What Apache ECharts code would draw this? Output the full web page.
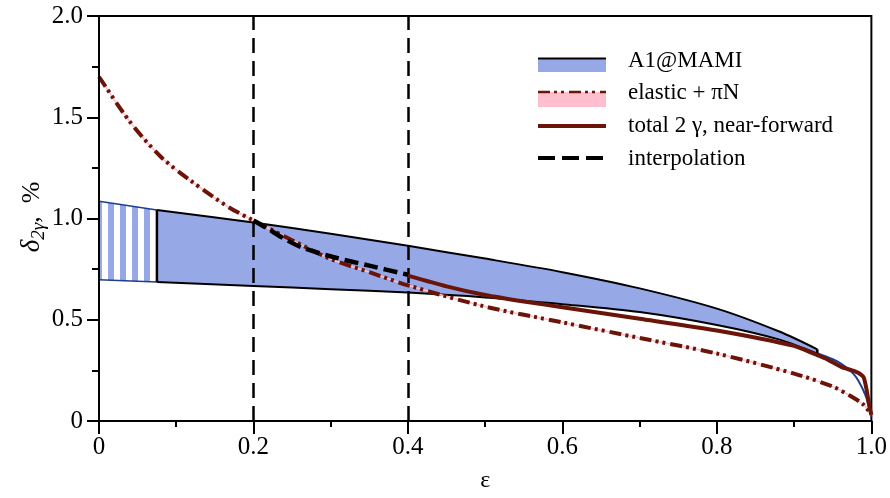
<!DOCTYPE html>
<html>
<head>
<meta charset="utf-8">
<script src="https://cdn.jsdelivr.net/npm/echarts@6/dist/echarts.min.js"></script>
<style>
html, body { margin: 0; padding: 0; background: #fff; }
#chart { width: 890px; height: 498px; }
</style>
</head>
<body>
<div id="chart"></div>
<script>
// A1@MAMI band (measured part)
var bandEps   = [0.075, 0.2, 0.3, 0.4, 0.5, 0.6, 0.7, 0.8, 0.88, 0.93];
var bandUpper = [1.042, 0.98, 0.925, 0.865, 0.802, 0.735, 0.655, 0.555, 0.443, 0.354];
var bandLower = [0.686, 0.667, 0.651, 0.634, 0.61, 0.577, 0.538, 0.474, 0.403, 0.333];
// extrapolated part, hatched
var hatchEps   = [0, 0.075];
var hatchUpper = [1.085, 1.042];
var hatchLower = [0.697, 0.686];
// extrapolated line to eps = 1
var extEps = [0.93, 0.95, 0.962, 0.975, 0.983, 0.992, 0.997, 1.0];
var extVal = [0.335, 0.305, 0.28, 0.24, 0.2, 0.13, 0.07, 0.02];
// elastic + piN
var elEps = [0, 0.04, 0.08, 0.12, 0.167, 0.2, 0.25, 0.3, 0.35, 0.4, 0.5, 0.6, 0.7, 0.8, 0.9, 0.95, 0.97, 0.99, 1.0];
var elVal = [1.70, 1.478, 1.305, 1.183, 1.058, 0.99, 0.893, 0.80, 0.735, 0.67, 0.565, 0.487, 0.41, 0.333, 0.234, 0.17, 0.13, 0.08, 0.03];
// total 2 gamma, near-forward
var totEps = [0.4, 0.45, 0.5, 0.55, 0.6, 0.7, 0.8, 0.9, 0.927, 0.94, 0.961, 0.975, 0.983, 0.99, 0.994, 0.997, 1.0];
var totVal = [0.718, 0.665, 0.622, 0.59, 0.562, 0.505, 0.447, 0.371, 0.33, 0.31, 0.267, 0.25, 0.238, 0.215, 0.15, 0.08, 0.03];
// interpolation
var intEps = [0.2, 0.217, 0.24, 0.264, 0.303, 0.35, 0.4];
var intVal = [0.99, 0.953, 0.9, 0.855, 0.81, 0.767, 0.722];
// vertical lines
var vLines = [0.2, 0.4];

var FONT = 'Liberation Serif';
var BLUE = '#97a8e7';
var NAVY = '#1f3d8f';
var RED = '#6b1408';
var PINK = '#ffbfcf';

function pairs(xs, ys) {
    return xs.map(function (x, i) { return [x, ys[i]]; });
}

// stripe pattern for the hatched part
var pat = document.createElement('canvas');
pat.width = 12;
pat.height = 8;
var pctx = pat.getContext('2d');
pctx.fillStyle = '#fff';
pctx.fillRect(0, 0, 12, 8);
pctx.fillStyle = BLUE;
pctx.fillRect(0, 0, 6, 8);

var chart = echarts.init(document.getElementById('chart'));

function lineS(data, color, width, type, z, smooth) {
    return {
        type: 'line',
        data: data,
        symbol: 'none',
        smooth: smooth === undefined ? 0.3 : smooth,
        z: z,
        lineStyle: { color: color, width: width, type: type || 'solid' },
        silent: true
    };
}
// filled area down to zero (used to build the band: blue above, white below)
function areaS(data, fill, z, smooth) {
    return {
        type: 'line',
        data: data,
        symbol: 'none',
        smooth: smooth === undefined ? 0.3 : smooth,
        z: z,
        lineStyle: { width: 0 },
        areaStyle: { color: fill, opacity: 1, origin: 'start' },
        silent: true
    };
}

var n = bandEps.length - 1;
var series = [];
series.push(areaS(pairs(hatchEps, hatchUpper), { image: pat, repeat: 'repeat' }, 1, false));
series.push(areaS(pairs(hatchEps, hatchLower), '#fff', 1, false));
series.push(areaS(pairs(bandEps, bandUpper), BLUE, 1));
series.push(areaS(pairs(bandEps, bandLower), '#fff', 1));
// hide the anti-aliasing seams under the band ends
series.push(lineS([[bandEps[0], 0], [bandEps[0], bandLower[0]]], '#fff', 2, 'solid', 1, false));
series.push(lineS([[bandEps[n], 0], [bandEps[n], bandLower[n]]], '#fff', 2, 'solid', 1, false));
// band borders
series.push(lineS(pairs(hatchEps, hatchUpper), NAVY, 1.5, 'solid', 2, false));
series.push(lineS(pairs(hatchEps, hatchLower), NAVY, 1.5, 'solid', 2, false));
series.push(lineS(pairs(extEps, extVal), NAVY, 2, 'solid', 2));
series.push(lineS(pairs(bandEps, bandUpper), '#000', 2, 'solid', 3));
series.push(lineS(pairs(bandEps, bandLower), '#000', 2, 'solid', 3));
series.push(lineS([[bandEps[0], bandLower[0]], [bandEps[0], bandUpper[0]]], '#000', 2.5, 'solid', 3, false));
series.push(lineS([[bandEps[n], bandLower[n]], [bandEps[n], bandUpper[n]]], '#000', 2.5, 'solid', 3, false));
// elastic + piN
series.push(lineS(pairs(elEps, elVal), PINK, 1.5, 'solid', 4));
series.push(lineS(pairs(elEps, elVal), RED, 4, [12, 4, 3, 4, 3, 5], 5));
// total
series.push(lineS(pairs(totEps, totVal), RED, 4, 'solid', 5, 0.2));
// interpolation
series.push(lineS(pairs(intEps, intVal), '#000', 4.5, [14, 6], 6));
// vertical dashed lines
series.push({
    type: 'line', data: [], symbol: 'none', silent: true, z: 7,
    markLine: {
        silent: true, symbol: ['none', 'none'], animation: false,
        label: { show: false },
        lineStyle: { color: '#000', width: 2.5, type: [15, 8] },
        data: vLines.map(function (v) { return { xAxis: v }; })
    }
});

var legendX = 538, legendW = 68, textX = 628;
var legendRows = [61, 93, 126, 159];
var legendNames = ['A1@MAMI', 'elastic + \u03c0N', 'total 2 \u03b3, near-forward', 'interpolation'];

var graphic = [
    { type: 'rect', shape: { x: legendX, y: 59, width: legendW, height: 13 }, style: { fill: BLUE } },
    { type: 'line', shape: { x1: legendX, y1: 58.5, x2: legendX + legendW, y2: 58.5 }, style: { stroke: '#000', lineWidth: 2 } },
    { type: 'rect', shape: { x: legendX, y: 92, width: legendW, height: 15 }, style: { fill: PINK } },
    { type: 'line', shape: { x1: legendX, y1: 92, x2: legendX + legendW, y2: 92 }, style: { stroke: RED, lineWidth: 2.5, lineDash: [12, 4, 3, 4, 3, 5] } },
    { type: 'line', shape: { x1: legendX, y1: 126, x2: legendX + legendW, y2: 126 }, style: { stroke: RED, lineWidth: 4 } },
    { type: 'line', shape: { x1: legendX, y1: 158, x2: legendX + legendW, y2: 158 }, style: { stroke: '#000', lineWidth: 4, lineDash: [17, 7] } },
    {
        type: 'text', x: 32, y: 217, rotation: Math.PI / 2,
        style: {
            text: '{d|\u03b4}{s|2\u03b3}{n|,  %}',
            align: 'center', verticalAlign: 'middle',
            rich: {
                d: { fontFamily: FONT, fontSize: 27, fontStyle: 'italic', fill: '#000' },
                s: { fontFamily: FONT, fontSize: 19, fontStyle: 'italic', fill: '#000', padding: [14, 0, 0, 0] },
                n: { fontFamily: FONT, fontSize: 26, fill: '#000' }
            }
        }
    },
    {
        type: 'text', x: 455, y: 388,
        style: { text: 'Q\u00b2 = 0.1 GeV\u00b2', fontFamily: FONT, fontSize: 22, fill: '#000', verticalAlign: 'middle' }
    }
];
legendNames.forEach(function (name, i) {
    graphic.push({
        type: 'text', x: textX, y: legendRows[i],
        style: { text: name, fontFamily: FONT, fontSize: 23, fill: '#000', verticalAlign: 'middle' }
    });
});

var option = {
    animation: false,
    backgroundColor: '#fff',
    grid: { left: 99, right: 17, top: 16, bottom: 70, show: true, borderColor: '#000', borderWidth: 2 },
    xAxis: {
        type: 'value', min: 0, max: 1, interval: 0.2, z: 10,
        name: '\u03b5', nameLocation: 'middle', nameGap: 48,
        nameTextStyle: { fontFamily: FONT, fontSize: 24, color: '#000' },
        axisLine: { lineStyle: { color: '#000', width: 2 } },
        axisTick: { length: 13, lineStyle: { color: '#000', width: 2 } },
        minorTick: { show: true, splitNumber: 2, length: 6, lineStyle: { color: '#000', width: 2 } },
        splitLine: { show: false },
        axisLabel: {
            margin: 14, fontFamily: FONT, fontSize: 25, color: '#000',
            formatter: function (v) { return v === 0 ? '0' : v.toFixed(1); }
        }
    },
    yAxis: {
        type: 'value', min: 0, max: 2, interval: 0.5, z: 10,
        axisLine: { show: true, lineStyle: { color: '#000', width: 2 } },
        axisTick: { show: true, length: 12, lineStyle: { color: '#000', width: 2 } },
        minorTick: { show: true, splitNumber: 2, length: 7, lineStyle: { color: '#000', width: 2 } },
        splitLine: { show: false },
        axisLabel: {
            margin: 16, fontFamily: FONT, fontSize: 25, color: '#000',
            formatter: function (v) { return v === 0 ? '0' : v.toFixed(1); }
        }
    },
    graphic: graphic,
    series: series
};
chart.setOption(option);
</script>
</body>
</html>
